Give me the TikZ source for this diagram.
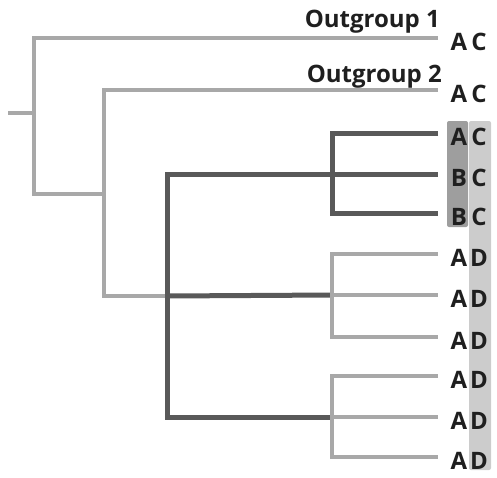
\documentclass[tikz,border=0pt]{standalone}
\usepackage{fontspec}
\setmainfont{Open Sans}
\usetikzlibrary{positioning}
\definecolor{lightbranch}{gray}{0.66}
\definecolor{darkbranch}{gray}{0.35}
\definecolor{darkbox}{gray}{0.62}
\definecolor{lightbox}{gray}{0.80}
\definecolor{ink}{gray}{0.12}
\begin{document}
\begin{tikzpicture}[x=1pt,y=-1pt,
    light/.style={line width=4pt,color=lightbranch},
    dark/.style={line width=5pt,color=darkbranch},
    tip/.style={font=\bfseries\fontsize{24}{24}\selectfont,text=ink,inner sep=0pt},
    group/.style={font=\bfseries\fontsize{24}{24}\selectfont,text=ink,inner sep=0pt,anchor=base east}]
      \useasboundingbox (0,0) rectangle (497,477);
      % character boxes
      \fill[darkbox,rounded corners=2pt] (447,121) rectangle (468,227);
      \fill[lightbox,rounded corners=2pt] (469,121) rectangle (491,470);
      % tree nodes
      \coordinate (root) at (8,113);
      \coordinate (n1) at (34,113);
      \coordinate (n2) at (104,194);
      \coordinate (n3) at (167,296);
      \coordinate (c1) at (332,174);
      \coordinate (c2) at (332,295);
      \coordinate (c3) at (332,417);
      \foreach \i/\y/\l/\r in {1/38/A/C,2/90/A/C,3/133/A/C,4/174/B/C,5/213/B/C,
          6/254/A/D,7/295/A/D,8/337/A/D,9/376/A/D,10/417/A/D,11/457/A/D} {
        \coordinate (e\i) at (438,\y);
        \node[tip] (a\i) at (459,\y+4) {\l};
        \node[tip] (b\i) at (479,\y+4) {\r};
      }
      \node[group] (og1) at (440,27) {Outgroup 1};
      \node[group] (og2) at (442,82) {Outgroup 2};
      % outgroups
      \draw[light] (root) -- (n1);
      \draw[light] (e1) -| (n1) |- (n2);
      \draw[light] (e2) -| (n2) |- (n3);
      % ingroup backbone
      \draw[dark] (c1) -| (n3) |- (c3);
      \draw[dark] (n3) -- (c2);
      % clades
      \draw[light] (e6) -| (c2) |- (e8);
      \draw[light] (c2) -- (e7);
      \draw[light] (e9) -| (c3) |- (e11);
      \draw[light] (c3) -- (e10);
      \draw[dark] (e3) -| (c1) |- (e5);
      \draw[dark] (c1) -- (e4);
    \end{tikzpicture}
\end{document}
